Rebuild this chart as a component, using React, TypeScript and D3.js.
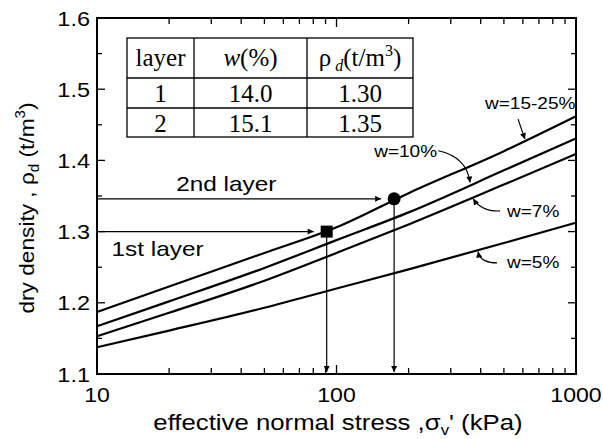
import * as d3 from 'd3'

// effective normal stress (kPa) where the curves were read
const stress = [10, 20, 50, 100, 200, 500, 1000]
// dry density (t/m3) for each water content
const curveNames = ['w=15-25%', 'w=10%', 'w=7%', 'w=5%']
const density15to25 = [1.187, 1.223, 1.27, 1.306, 1.354, 1.413, 1.462]
const density10 = [1.167, 1.202, 1.249, 1.288, 1.327, 1.386, 1.431]
const density7 = [1.153, 1.186, 1.231, 1.27, 1.31, 1.366, 1.409]
const density5 = [1.1375, 1.161, 1.193, 1.22, 1.247, 1.284, 1.3125]

// the two compacted layers
const layerNames = ['1', '2']
const layerW = ['14.0', '15.1']
const layerRho = ['1.30', '1.35']
const layerStress = [91, 174]
const layerDensity = [1.3, 1.346]
const layerText = ['1st layer', '2nd layer']

const xTickLabels = [10, 100, 1000]
const yTickLabels = [1.1, 1.2, 1.3, 1.4, 1.5, 1.6]

const W = 603
const H = 439
const left = 97
const right = 576
const top = 18
const bottom = 374

const sans = "'Liberation Sans', Arial, sans-serif"
const serif = "'Liberation Serif', 'Times New Roman', serif"

// the original lettering is a little wider than Arial
const at = (x: number, y: number, sx = 1.13) => `translate(${x},${y}) scale(${sx},1)`

export default function App() {
  const x = d3.scaleLog().domain([10, 1000]).range([left, right])
  const y = d3.scaleLinear().domain([1.1, 1.6]).range([bottom, top])

  const series = [density15to25, density10, density7, density5]
  const line = d3
    .line<number>()
    .x((_, i) => x(stress[i]))
    .y((d) => y(d))
    .curve(d3.curveMonotoneX)

  const xMajor = xTickLabels
  const xMinor = d3.range(1, 3).flatMap((e) => d3.range(2, 10).map((m) => m * 10 ** e))
  const yMajor = yTickLabels
  const yMinor = d3.range(1.15, 1.6, 0.1)

  // curve labels: text anchor + curved arrow (stress, density)
  const notes = [
    { text: curveNames[0], tx: 417, ty: 1.472, from: [573, 1.458], ctl: [590, 1.445], to: [612, 1.43] },
    { text: curveNames[1], tx: 143.6, ty: 1.405, from: [266, 1.4136], ctl: [350, 1.405], to: [361, 1.369] },
    { text: curveNames[2], tx: 515, ty: 1.3205, from: [482, 1.329], ctl: [404, 1.328], to: [372, 1.346] },
    { text: curveNames[3], tx: 515, ty: 1.249, from: [468, 1.256], ctl: [398, 1.256], to: [390, 1.272] },
  ]

  // table geometry
  const tx = [127, 194, 307, 413]
  const ty = [38, 78, 108, 137]

  return (
    <svg
      width={W}
      height={H}
      style={{ position: 'absolute', left: 0, top: 0, background: '#fff' }}
    >
      <defs>
        <marker id="ah" viewBox="0 0 10 10" refX="10" refY="5" markerWidth="9" markerHeight="6" markerUnits="userSpaceOnUse" orient="auto">
          <path d="M0,0 L10,5 L0,10 z" fill="#000" />
        </marker>
      </defs>

      {/* ticks */}
      <g stroke="#000" strokeWidth={1.3}>
        {xMajor.map((v) => (
          <g key={'xM' + v}>
            <line x1={x(v)} x2={x(v)} y1={bottom} y2={bottom - 9} />
            <line x1={x(v)} x2={x(v)} y1={top} y2={top + 9} />
          </g>
        ))}
        {xMinor.map((v) => (
          <g key={'xm' + v}>
            <line x1={x(v)} x2={x(v)} y1={bottom} y2={bottom - 6} />
            <line x1={x(v)} x2={x(v)} y1={top} y2={top + 6} />
          </g>
        ))}
        {yMajor.map((v) => (
          <g key={'yM' + v}>
            <line x1={left} x2={left + 8} y1={y(v)} y2={y(v)} />
            <line x1={right} x2={right - 8} y1={y(v)} y2={y(v)} />
          </g>
        ))}
        {yMinor.map((v) => (
          <g key={'ym' + v}>
            <line x1={left} x2={left + 5} y1={y(v)} y2={y(v)} />
            <line x1={right} x2={right - 5} y1={y(v)} y2={y(v)} />
          </g>
        ))}
      </g>

      {/* curves */}
      <g fill="none" stroke="#000" strokeWidth={2.2}>
        {series.map((s, i) => (
          <path key={i} d={line(s) ?? ''} />
        ))}
      </g>

      {/* layer guide arrows */}
      <g stroke="#000" strokeWidth={1.2} fill="none">
        {layerStress.map((s, i) => (
          <g key={i}>
            <line x1={left} x2={x(s) - 13} y1={y(layerDensity[i])} y2={y(layerDensity[i])} markerEnd="url(#ah)" />
            <line x1={x(s)} x2={x(s)} y1={y(layerDensity[i])} y2={bottom - 2} markerEnd="url(#ah)" />
          </g>
        ))}
      </g>

      {/* layer markers */}
      <rect
        x={x(layerStress[0]) - 6}
        y={y(layerDensity[0]) - 6}
        width={12}
        height={12}
        fill="#000"
      />
      <circle cx={x(layerStress[1])} cy={y(layerDensity[1])} r={6.5} fill="#000" />

      {/* frame */}
      <rect x={left} y={top} width={right - left} height={bottom - top} fill="none" stroke="#000" strokeWidth={2} />

      {/* curve labels */}
      <g fontFamily={sans} fontSize={17} fill="#000">
        {notes.map((n, i) => (
          <g key={i}>
            <text transform={at(x(n.tx), y(n.ty), 1.12)}>{n.text}</text>
            <path
              d={`M${x(n.from[0])},${y(n.from[1])} Q${x(n.ctl[0])},${y(n.ctl[1])} ${x(n.to[0])},${y(n.to[1])}`}
              fill="none"
              stroke="#000"
              strokeWidth={1.2}
              markerEnd="url(#ah)"
            />
          </g>
        ))}
      </g>

      {/* layer labels */}
      <g fontFamily={sans} fontSize={21} fill="#000">
        <text transform={at(x(21.4), y(1.357), 1.16)}>{layerText[1]}</text>
        <text transform={at(x(11.5), y(1.2657), 1.16)}>{layerText[0]}</text>
      </g>

      {/* table */}
      <g stroke="#000" strokeWidth={1.3}>
        <rect x={tx[0]} y={ty[0]} width={tx[3] - tx[0]} height={ty[3] - ty[0]} fill="#fff" />
        {tx.slice(1, 3).map((v) => (
          <line key={'c' + v} x1={v} x2={v} y1={ty[0]} y2={ty[3]} />
        ))}
        {ty.slice(1, 3).map((v) => (
          <line key={'r' + v} x1={tx[0]} x2={tx[3]} y1={v} y2={v} />
        ))}
      </g>
      <g fontFamily={serif} fontSize={25} fill="#000" textAnchor="middle">
        <text x={(tx[0] + tx[1]) / 2} y={66}>layer</text>
        <text x={(tx[1] + tx[2]) / 2} y={66}>
          <tspan fontStyle="italic">w</tspan>(%)
        </text>
        <text x={(tx[2] + tx[3]) / 2} y={66}>
          ρ<tspan fontStyle="italic" fontSize={16} dy={5}> d</tspan>
          <tspan dy={-5}>(t/m</tspan>
          <tspan fontSize={16} dy={-10}>3</tspan>
          <tspan dy={10}>)</tspan>
        </text>
        {layerNames.map((n, i) => (
          <g key={n}>
            <text x={(tx[0] + tx[1]) / 2} y={ty[i + 1] + 24}>{n}</text>
            <text x={(tx[1] + tx[2]) / 2} y={ty[i + 1] + 24}>{layerW[i]}</text>
            <text x={(tx[2] + tx[3]) / 2} y={ty[i + 1] + 24}>{layerRho[i]}</text>
          </g>
        ))}
      </g>

      {/* tick labels */}
      <g fontFamily={sans} fontSize={21} fill="#000">
        {yTickLabels.map((v) => (
          <text key={v} transform={at(90, y(v) + 7.5, 1.12)} textAnchor="end">
            {v.toFixed(1)}
          </text>
        ))}
        {xTickLabels.map((v) => (
          <text key={v} transform={at(x(v), 402, 1.1)} textAnchor="middle">
            {v}
          </text>
        ))}
      </g>

      {/* axis titles */}
      <text transform={at(338, 430, 1.12)} fontFamily={sans} fontSize={23} textAnchor="middle">
        effective normal stress ,σ<tspan fontSize={15} dy={5}>v</tspan>
        <tspan dy={-5}>' (kPa)</tspan>
      </text>
      <text
        transform={`translate(34,${(top + bottom) / 2 + 12}) rotate(-90) scale(1.08,1)`}
        fontFamily={sans}
        fontSize={21}
        textAnchor="middle"
      >
        dry density , ρ<tspan fontSize={14} dy={5}>d</tspan>
        <tspan dy={-5}> (t/m</tspan>
        <tspan fontSize={14} dy={-9}>3</tspan>
        <tspan dy={9}>)</tspan>
      </text>
    </svg>
  )
}
